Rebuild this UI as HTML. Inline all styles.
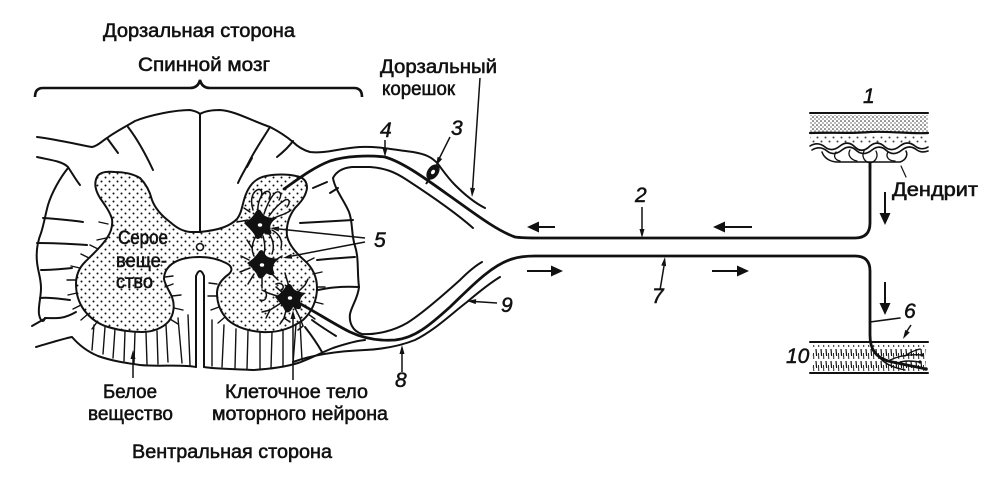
<!DOCTYPE html>
<html><head><meta charset="utf-8"><style>
html,body{margin:0;padding:0;background:#fff;}
svg{display:block;}
text{font-family:"Liberation Sans","DejaVu Sans",sans-serif;fill:#111;stroke:#111;stroke-width:0.55;}
.l{font-size:19px;}
.n{font-size:21px;font-style:italic;stroke-width:0.5;}
</style></head><body>
<svg width="1000" height="481" viewBox="0 0 1000 481" xmlns="http://www.w3.org/2000/svg">
<defs>
<pattern id="dots" width="8" height="8" patternUnits="userSpaceOnUse">
<circle cx="1.5" cy="1.5" r="1" fill="#111"/>
<circle cx="5.5" cy="5.5" r="1" fill="#111"/>
</pattern>
<pattern id="fine" width="4" height="4" patternUnits="userSpaceOnUse">
<circle cx="1" cy="1" r="0.75" fill="#111"/>
<circle cx="3" cy="3" r="0.6" fill="#111"/>
</pattern>
<pattern id="hatch" width="5" height="12" patternUnits="userSpaceOnUse">
<line x1="1" y1="1" x2="1.6" y2="8" stroke="#111" stroke-width="1.2"/>
<line x1="3.5" y1="5" x2="3.8" y2="11" stroke="#111" stroke-width="0.9"/>
</pattern>
</defs>

<!-- TEXT LABELS -->
<text class="l" x="103" y="37" textLength="192" lengthAdjust="spacingAndGlyphs">Дорзальная сторона</text>
<text class="l" x="138" y="71" textLength="132" lengthAdjust="spacingAndGlyphs">Спинной мозг</text>
<text class="l" x="380" y="73" textLength="117" lengthAdjust="spacingAndGlyphs">Дорзальный</text>
<text class="l" x="382" y="95" textLength="73" lengthAdjust="spacingAndGlyphs">корешок</text>
<text class="l" x="118" y="244" textLength="50" lengthAdjust="spacingAndGlyphs">Серое</text>
<text class="l" x="116" y="267" textLength="51" lengthAdjust="spacingAndGlyphs">веще-</text>
<text class="l" x="116" y="288" textLength="37" lengthAdjust="spacingAndGlyphs">ство</text>
<text class="l" x="103" y="398" textLength="54" lengthAdjust="spacingAndGlyphs">Белое</text>
<text class="l" x="88" y="420" textLength="85" lengthAdjust="spacingAndGlyphs">вещество</text>
<text class="l" x="225" y="398" textLength="143" lengthAdjust="spacingAndGlyphs">Клеточное тело</text>
<text class="l" x="212" y="420" textLength="176" lengthAdjust="spacingAndGlyphs">моторного нейрона</text>
<text class="l" x="132" y="458" textLength="200" lengthAdjust="spacingAndGlyphs">Вентральная сторона</text>
<text class="l" x="892" y="196" textLength="86" lengthAdjust="spacingAndGlyphs">Дендрит</text>

<text class="n" x="863" y="103">1</text>
<text class="n" x="635" y="202">2</text>
<text class="n" x="451" y="135">3</text>
<text class="n" x="380" y="137">4</text>
<text class="n" x="374" y="247">5</text>
<text class="n" x="904" y="318">6</text>
<text class="n" x="652" y="303">7</text>
<text class="n" x="395" y="387">8</text>
<text class="n" x="501" y="312">9</text>
<text class="n" x="786" y="363">10</text>

<!-- BRACE -->
<path d="M35,97 Q35,88 43,88 L190,88 Q198,88 200,80 Q202,88 210,88 L354,88 Q362,88 362,97" fill="none" stroke="#111" stroke-width="2.6"/>

<!-- GRAY MATTER -->
<path d="M200,232 L190,232 C183,231 178,229 170,222 C162,216 155,208 152,200 C150,192 147,185 140,178 C133,174 125,172 115,172 C105,171 99,173 97,177 C94,183 95,190 100,198 C105,205 110,212 112,219 C113,226 111,232 107,238 C102,246 93,254 85,262 C79,268 76,275 76,284 C76,295 79,303 84,310 C90,318 98,324 108,327 C118,330 130,332 142,332 C153,332 163,328 169,321 C174,314 175,305 172,297 C169,290 165,285 164,279 C164,272 168,266 175,262 C182,258 192,257 200,257 C208,257 218,259 226,263 C232,266 233,270 229,274 C222,279 217,285 217,293 C217,303 220,312 228,320 C236,327 248,331 262,332 C278,333 292,328 303,320 C312,312 317,300 317,288 C317,276 312,267 304,260 C296,253 289,245 287,236 C286,226 289,216 295,208 C301,202 306,196 307,188 C307,181 303,177 296,176 C288,174 275,174 266,176 C256,178 250,184 246,194 C242,204 242,213 237,219 C230,226 220,230 200,232 Z" fill="url(#dots)" stroke="#111" stroke-width="2"/>

<!-- central canal -->
<circle cx="200" cy="247" r="3.5" fill="#fff" stroke="#111" stroke-width="1.6"/>

<!-- SPINAL CORD OUTLINES -->
<g fill="none" stroke="#111" stroke-width="2" stroke-linecap="round" stroke-linejoin="round">
<path d="M37,137 C60,140 80,145 92,147 C98,146 102,141 107,138 C115,132 125,127 135,121 C150,115 175,110 190,110 C195,111 198,112 200,114 C205,111 212,110 220,110 C235,111 250,120 270,127 C280,132 287,137 293,142 C298,147 303,150 310,152 C325,154 340,148 360,147 C378,146 395,150 413,152 C425,154 432,157 438,164 C444,172 448,178 455,185 C465,195 475,203 485,208"/>
<path d="M200,114 L200,232"/>
<path d="M196,367 L196,276 Q200,266 204,276 L204,367"/>
<path d="M37,157 C50,160 62,161 68,167 C72,173 76,180 80,185"/>
<path d="M68,168 C60,178 52,192 48,205 C45,216 44,224 41,233 C37,243 36,252 37,262 C38,272 41,278 41,288 C41,298 38,306 39,314 C40,320 43,324 45,318"/>
<path d="M32,326 L46,318"/>
<path d="M36,347 C50,343 62,339 72,337 C78,344 86,351 98,356 C112,361 126,363 140,365 C160,367 180,364 196,367"/>
<path d="M204,367 C215,369 235,369 253,370 C270,369 285,367 298,363 C310,359 318,354 333,348 C345,344 355,341 365,340"/>
<path d="M473,228 C455,212 430,195 407,180 C395,172 385,168 370,167 L352,167 C342,168 336,172 333,178 C335,190 344,200 349,212 C353,222 351,234 355,246 C359,258 357,272 359,287 C358,298 352,305 350,314 C349,322 352,331 362,334 C378,335 395,330 407,323 C420,315 440,298 460,280 C468,272 475,266 482,262"/>
<path d="M293,362 C315,354 340,351 365,350 C385,349 400,346 415,340 C435,330 450,315 467,302 C480,291 490,283 500,277"/>
<path d="M107,138 L118,153"/>
<path d="M128,127 C138,140 146,155 153,170"/>
<path d="M43,218 C58,219 70,220 83,222"/>
<path d="M37,243 C55,243 72,244 87,245"/>
<path d="M41,270 C52,270 62,269 72,268"/>
<path d="M40,298 C50,297 60,299 70,300"/>
<path d="M45,318 C55,318 62,320 76,312"/>
<path d="M270,127 C262,140 255,150 250,160 C245,170 241,176 238,183"/>
<path d="M293,141 C288,148 282,153 277,157"/>
<path d="M252,158 L247,167"/>
<path d="M313,188 L327,182"/>
<path d="M330,193 L338,188"/>
<path d="M300,223 C320,222 335,221 353,220"/>
<path d="M317,260 C328,259 338,258 355,257"/>
<path d="M318,290 C328,288 340,286 359,287"/>
<path d="M312,320 C320,326 328,331 336,336"/>
<path d="M305,327 C312,336 318,345 322,352"/>
</g>

<g fill="none" stroke="#111" stroke-width="1.4" stroke-linecap="round">
<path d="M108,224 L99,222 M106,238 L97,240 M98,249 L90,245 M89,258 L81,254 M80,268 L71,266 M76,280 L67,280 M77,293 L68,295 M81,305 L73,309 M88,314 L81,320 M97,322 L92,329"/>
<path d="M172,296 L181,295 M174,308 L183,310 M170,319 L178,324 M165,287 L173,284 M165,277 L173,276"/>
<path d="M217,284 L209,283 M217,296 L208,296 M219,307 L211,310 M225,317 L218,323"/>
<path d="M306,262 L314,258 M313,274 L322,272 M317,287 L325,287 M315,302 L323,304 M308,314 L315,319"/>
<path d="M105,327 L103,354 M115,329 L113,358 M125,331 L124,361 M135,332 L134,363 M146,332 L147,364 M157,331 L158,364 M166,325 L168,362 M178,318 L182,363 M188,315 L190,365 M94,325 L92,350"/>
<path d="M212,320 L212,366 M224,325 L222,367 M236,329 L235,368 M248,331 L247,369 M260,332 L260,369 M272,332 L271,368 M283,330 L283,367 M296,324 L293,364 M300,322 L302,360"/>
</g>

<!-- MAIN NERVE FIBERS -->
<g fill="none" stroke="#111" stroke-width="2.8" stroke-linecap="round" stroke-linejoin="round">
<path d="M284,189 C297,180 312,168 330,161 C345,156 368,155 385,157 C402,162 422,176 447,194 C470,210 495,230 515,237 C522,238 530,238 540,238 L855,238 Q870,238 870,223 L870,165"/>
<path d="M289,298 C310,308 330,322 350,332 C365,339 380,341 395,340 C415,338 430,325 450,307 C470,288 490,266 512,259 C518,257 525,256 535,256 L855,256 Q870,256 870,271 L870,335 C870,350 876,357 888,361 C900,364 912,366 926,369"/>
</g>

<!-- ganglion -->
<g transform="translate(433,172) rotate(35)">
<ellipse cx="0" cy="0" rx="5.5" ry="8.5" fill="#111"/>
<ellipse cx="0" cy="0" rx="1.8" ry="2.5" fill="#fff"/>
</g>
<path d="M430,178 L426,184" stroke="#111" stroke-width="2" fill="none"/>

<!-- NEURONS -->
<g fill="none" stroke="#111" stroke-width="1.5" stroke-linecap="round">
<path d="M253,210 C250,200 252,193 257,190 C261,188 263,192 261,197"/>
<path d="M258,214 C257,204 260,196 265,192 C269,190 272,193 269,199"/>
<path d="M264,214 C267,205 270,198 275,193 C279,190 283,193 279,200"/>
<path d="M269,216 C274,209 280,203 285,200 C289,198 291,202 287,207"/>
<path d="M272,219 C280,215 287,214 291,210"/>
<path d="M248,220 L237,222 M250,212 L244,208"/>
<path d="M256,236 C252,243 251,250 254,256 M263,236 C265,243 266,250 263,257 M268,232 C273,239 275,246 272,254 M272,230 C279,234 283,240 281,248 M247,240 L252,248"/>
<path d="M250,268 L240,272 M254,274 L248,284 M262,276 L262,288 M270,272 L278,280 M272,262 L282,256 M249,260 L241,256"/>
<path d="M265,290 C268,296 266,302 260,300 M276,284 C282,282 285,286 282,290"/>
<path d="M280,297 L268,293 L262,290 M281,303 L270,310 L262,312 M287,307 L284,318 L280,324 M294,306 L300,318 L303,326 M298,292 L305,285 L308,279 M290,290 L287,280 L285,273 M283,293 L276,287 M270,310 L266,318"/>
<path d="M303,326 L298,330 M284,318 L290,322"/>
</g>
<g fill="#111">
<path d="M244,223 C249,220 252,218 255,213 C257,209 260,208 262,213 C265,217 269,218 277,218 C271,222 269,226 271,231 C273,235 268,236 264,233 C262,237 258,241 256,238 C254,233 251,230 244,223Z"/>
<path d="M247,263 C252,260 255,257 258,253 C260,249 263,249 265,254 C267,258 272,258 279,259 C273,263 272,267 274,272 C275,276 270,276 266,273 C264,278 260,280 258,277 C256,272 253,269 247,263Z"/>
<path d="M275,297 C280,294 283,291 286,286 C288,283 291,283 293,288 C295,291 299,292 306,293 C300,297 299,301 301,306 C302,310 297,310 293,307 C291,312 287,314 285,311 C283,306 280,303 275,297Z"/>
</g>
<g fill="#fff">
<ellipse cx="260" cy="225" rx="2.2" ry="1.8"/>
<ellipse cx="262" cy="265" rx="2.2" ry="1.8"/>
<ellipse cx="290" cy="298" rx="2.2" ry="1.8"/>
</g>

<!-- SKIN (1) -->
<rect x="810" y="115" width="118" height="17" fill="url(#fine)"/>
<rect x="810" y="135" width="118" height="9" fill="url(#dots)" opacity="0.8"/>
<g fill="none" stroke="#111" stroke-linecap="round">
<path d="M810,113 L928,113" stroke-width="2"/>
<path d="M810,133 C830,132 850,134 870,132 C890,131 910,134 928,133" stroke-width="2.2"/>
<path d="M810,146 C815,143 820,143 825,147 C830,151 835,150 840,146 C845,142 850,142 855,147 C860,152 865,151 870,146 C875,142 880,142 885,147 C890,151 895,150 900,146 C905,142 910,142 915,146 C920,150 925,149 928,147" stroke-width="1.6"/>
<path d="M812,150 C817,147 822,147 827,151 C832,155 837,154 842,150 C847,146 852,146 857,151 C862,155 867,154 872,150 C877,146 882,146 887,151 C892,155 897,154 902,150 C907,146 912,146 917,150 C921,153 925,152 928,151" stroke-width="1.6"/>
<path d="M822,152 C824,158 830,162 838,162 L900,162 C906,160 908,155 906,151" stroke-width="1.5"/>
<path d="M836,152 C833,156 835,160 840,161 M850,150 C847,155 851,160 857,161 M864,151 C861,157 865,162 870,163 C875,162 879,157 876,151 M888,152 C885,157 889,161 895,161" stroke-width="1.3"/>
<path d="M870,163 L870,168" stroke-width="2.6"/>
<path d="M901,166 L906,177" stroke-width="1.2"/>
</g>

<!-- MUSCLE (10) -->
<rect x="812" y="345" width="114" height="26" fill="url(#hatch)"/>
<g fill="none" stroke="#111" stroke-linecap="round">
<path d="M810,342 L928,342" stroke-width="2"/>
<path d="M810,373 L928,373" stroke-width="2"/>
<path d="M888,361 C898,356 910,354 922,355 M898,363 C905,360 912,361 920,362 M880,358 C885,364 895,368 905,370 M905,356 C910,352 916,350 920,349" stroke-width="1.4"/>
<path d="M870,322 L900,318" stroke-width="1.6"/>
</g>
<g fill="#111">
<circle cx="922" cy="355" r="1.6"/><circle cx="920" cy="362" r="1.6"/><circle cx="926" cy="369" r="1.8"/>
</g>

<!-- LEADER LINES -->
<g fill="none" stroke="#111" stroke-width="1.5">
<path d="M385,140 L385,149"/>
<path d="M450,137 L439,159"/>
<path d="M642,207 L642,230"/>
<path d="M660,290 L664,266"/>
<path d="M497,303 L476,301.6"/>
<path d="M402,372 L402,354"/>
<path d="M911,325 L907,331"/>
<path d="M480,78 L472.6,188"/>
<path d="M365,238 L279,229"/>
<path d="M365,242 L292,256"/>
<path d="M293,380 L293,319"/>
<path d="M133,378 L133,359"/>
</g>
<g fill="#111">
<polygon points="385,157 382.5,148 387.5,148"/>
<polygon points="436,166 442.2,159 437.6,156.8"/>
<polygon points="642,238 639.5,229 644.5,229"/>
<polygon points="665,257 666.1,266.3 661.2,265.5"/>
<polygon points="467,301 476.2,299.1 475.8,304.1"/>
<polygon points="402,345 399.5,354 404.5,354"/>
<polygon points="903,339 909.7,332.4 905.3,329.9"/>
<polygon points="472,197 475.1,188.2 470.1,187.8"/>
<polygon points="270,228 279.2,226.5 278.7,231.5"/>
<polygon points="283,258 292.3,258.8 291.4,253.8"/>
<polygon points="293,310 290.5,319 295.5,319"/>
<polygon points="133,350 130.5,359 135.5,359"/>
</g>

<!-- DIRECTION ARROWS -->
<g stroke="#111" stroke-width="2" fill="none">
<path d="M539,227 L555,227"/>
<path d="M527,271 L551,271"/>
<path d="M725,227 L752,227"/>
<path d="M712,271 L737,271"/>
<path d="M885,192 L885,213"/>
<path d="M885,282 L885,303"/>
</g>
<g fill="#111">
<polygon points="527,227 539,221.5 539,232.5"/>
<polygon points="563,271 551,265.5 551,276.5"/>
<polygon points="713,227 725,221.5 725,232.5"/>
<polygon points="749,271 737,265.5 737,276.5"/>
<polygon points="885,225 879.5,213 890.5,213"/>
<polygon points="885,315 879.5,303 890.5,303"/>
</g>
</svg>
</body></html>
